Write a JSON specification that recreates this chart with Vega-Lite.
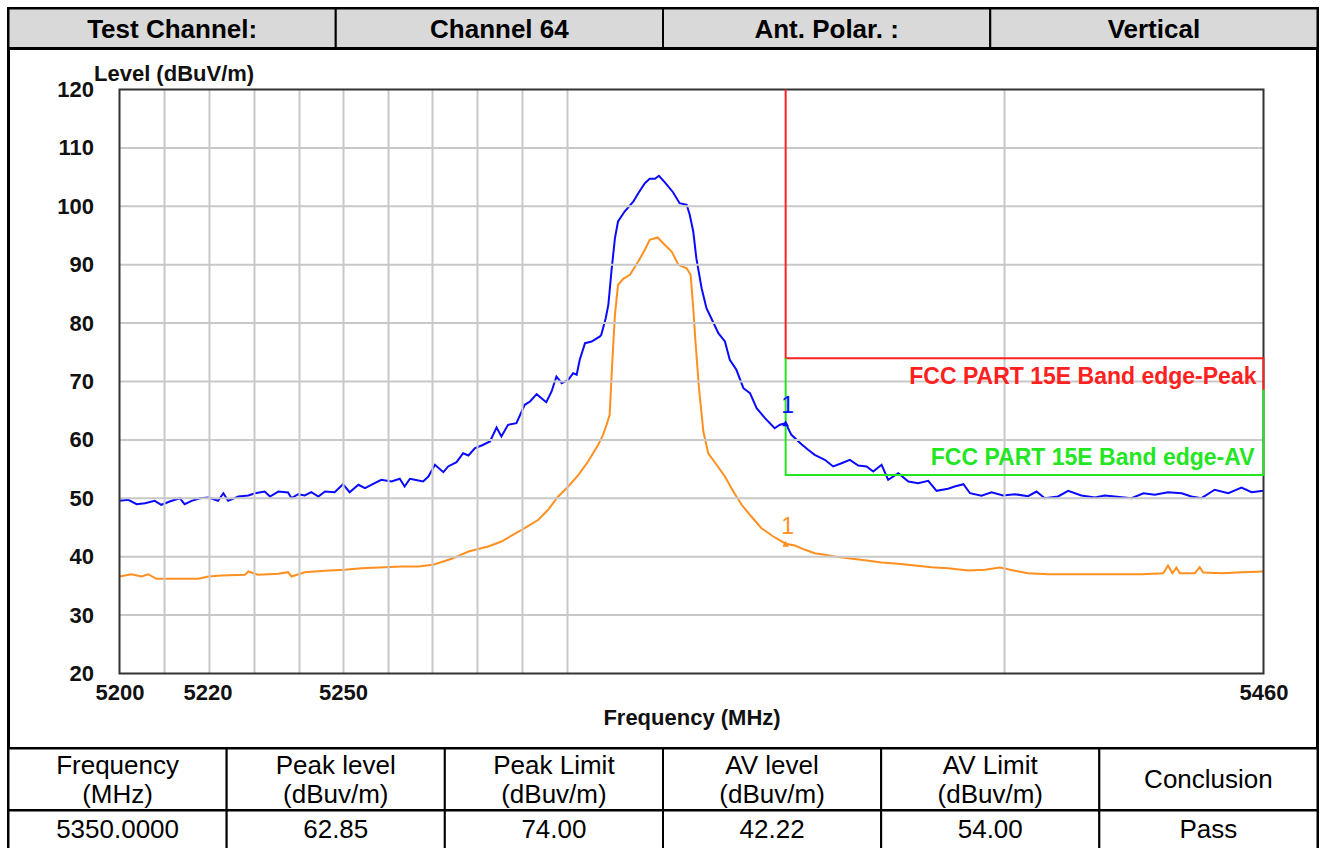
{
  "$schema": "https://vega.github.io/schema/vega-lite/v6.json",
  "background": "white",
  "padding": {"left": 5.5, "top": 5.5, "right": 0, "bottom": 0},
  "autosize": {"type": "pad"},
  "spacing": 0,
  "bounds": "flush",
  "config": {
    "font": "Liberation Sans",
    "view": {"stroke": "black", "strokeWidth": 3},
    "axis": {
      "labelFont": "Liberation Sans", "labelFontSize": 22, "labelFontWeight": "bold", "labelColor": "#111",
      "titleFont": "Liberation Sans", "titleFontSize": 22, "titleFontWeight": "bold", "titleColor": "#111",
      "grid": false, "ticks": false, "tickSize": 0, "domain": false, "labelFlush": false, "labelOverlap": false
    }
  },
  "vconcat": [
    {
      "width": 1309, "height": 40,
      "data": {"values": [
        {"col": 1, "label": "Test Channel:"},
        {"col": 2, "label": "Channel 64"},
        {"col": 3, "label": "Ant. Polar. :"},
        {"col": 4, "label": "Vertical"}
      ]},
      "layer": [
        {"mark": {"type": "rect", "fill": "#d9d9d9", "stroke": "black", "strokeWidth": 2},
         "encoding": {"x": {"field": "col", "type": "ordinal", "axis": null, "scale": {"paddingInner": 0, "paddingOuter": 0}}}},
        {"mark": {"type": "text", "fontWeight": "bold", "fontSize": 26, "color": "black", "baseline": "middle", "dy": 1},
         "encoding": {"x": {"field": "col", "type": "ordinal", "axis": null}, "text": {"field": "label", "type": "nominal"}}}
      ]
    },
    {
      "width": 1309, "height": 700,
      "layer": [
        {
          "data": {"values": [
            {"s":"Peak","f":5200.0,"v":49.57},{"s":"Peak","f":5202.0,"v":49.74},{"s":"Peak","f":5203.9,"v":48.99},{"s":"Peak","f":5205.8,"v":49.16},
            {"s":"Peak","f":5208.0,"v":49.57},{"s":"Peak","f":5209.5,"v":48.89},{"s":"Peak","f":5211.4,"v":49.45},{"s":"Peak","f":5213.7,"v":50.02},
            {"s":"Peak","f":5214.8,"v":48.99},{"s":"Peak","f":5216.4,"v":49.57},{"s":"Peak","f":5218.3,"v":50.02},{"s":"Peak","f":5220.2,"v":50.14},
            {"s":"Peak","f":5222.4,"v":49.57},{"s":"Peak","f":5223.6,"v":50.87},{"s":"Peak","f":5224.7,"v":49.57},{"s":"Peak","f":5227.0,"v":50.31},
            {"s":"Peak","f":5229.3,"v":50.48},{"s":"Peak","f":5230.8,"v":50.87},{"s":"Peak","f":5233.0,"v":51.16},{"s":"Peak","f":5234.2,"v":50.31},
            {"s":"Peak","f":5236.1,"v":51.16},{"s":"Peak","f":5238.3,"v":50.99},{"s":"Peak","f":5239.1,"v":50.02},{"s":"Peak","f":5240.6,"v":50.70},
            {"s":"Peak","f":5242.1,"v":50.48},{"s":"Peak","f":5243.6,"v":51.04},{"s":"Peak","f":5245.2,"v":50.31},{"s":"Peak","f":5246.7,"v":51.16},
            {"s":"Peak","f":5248.9,"v":51.04},{"s":"Peak","f":5250.8,"v":52.41},{"s":"Peak","f":5252.3,"v":51.04},{"s":"Peak","f":5254.3,"v":52.31},
            {"s":"Peak","f":5255.8,"v":51.73},{"s":"Peak","f":5258.0,"v":52.59},{"s":"Peak","f":5259.5,"v":53.17},{"s":"Peak","f":5261.8,"v":52.88},
            {"s":"Peak","f":5263.7,"v":53.34},{"s":"Peak","f":5264.8,"v":52.02},{"s":"Peak","f":5266.0,"v":53.34},{"s":"Peak","f":5267.1,"v":53.17},
            {"s":"Peak","f":5269.0,"v":52.88},{"s":"Peak","f":5270.2,"v":53.73},{"s":"Peak","f":5271.7,"v":55.74},{"s":"Peak","f":5273.6,"v":54.47},
            {"s":"Peak","f":5274.7,"v":55.45},{"s":"Peak","f":5276.6,"v":56.18},{"s":"Peak","f":5278.1,"v":57.72},{"s":"Peak","f":5279.3,"v":57.33},
            {"s":"Peak","f":5280.8,"v":58.58},{"s":"Peak","f":5282.3,"v":59.04},{"s":"Peak","f":5284.2,"v":59.73},{"s":"Peak","f":5285.7,"v":62.12},
            {"s":"Peak","f":5286.8,"v":60.58},{"s":"Peak","f":5288.3,"v":62.59},{"s":"Peak","f":5290.2,"v":62.86},{"s":"Peak","f":5292.1,"v":66.01},
            {"s":"Peak","f":5293.3,"v":66.58},{"s":"Peak","f":5294.8,"v":67.83},{"s":"Peak","f":5297.0,"v":66.46},{"s":"Peak","f":5298.2,"v":68.29},
            {"s":"Peak","f":5299.3,"v":70.86},{"s":"Peak","f":5300.5,"v":69.71},{"s":"Peak","f":5302.0,"v":70.29},{"s":"Peak","f":5303.1,"v":71.42},
            {"s":"Peak","f":5303.9,"v":71.15},{"s":"Peak","f":5304.6,"v":73.72},{"s":"Peak","f":5305.8,"v":76.56},{"s":"Peak","f":5307.3,"v":76.85},
            {"s":"Peak","f":5309.2,"v":77.71},{"s":"Peak","f":5309.5,"v":78.00},{"s":"Peak","f":5310.5,"v":80.84},{"s":"Peak","f":5311.1,"v":83.13},
            {"s":"Peak","f":5311.8,"v":88.84},{"s":"Peak","f":5312.6,"v":94.54},{"s":"Peak","f":5313.3,"v":97.40},{"s":"Peak","f":5314.8,"v":99.11},
            {"s":"Peak","f":5316.8,"v":100.82},{"s":"Peak","f":5317.9,"v":102.24},{"s":"Peak","f":5319.4,"v":103.96},{"s":"Peak","f":5320.5,"v":104.71},
            {"s":"Peak","f":5321.7,"v":104.71},{"s":"Peak","f":5322.6,"v":105.22},{"s":"Peak","f":5323.9,"v":104.13},{"s":"Peak","f":5325.8,"v":102.41},
            {"s":"Peak","f":5327.3,"v":100.53},{"s":"Peak","f":5328.9,"v":100.26},{"s":"Peak","f":5329.6,"v":98.54},{"s":"Peak","f":5330.4,"v":95.68},
            {"s":"Peak","f":5331.1,"v":91.11},{"s":"Peak","f":5332.3,"v":85.98},{"s":"Peak","f":5333.4,"v":82.55},{"s":"Peak","f":5334.5,"v":80.84},
            {"s":"Peak","f":5336.1,"v":78.27},{"s":"Peak","f":5337.6,"v":76.85},{"s":"Peak","f":5338.7,"v":73.72},{"s":"Peak","f":5340.2,"v":72.00},
            {"s":"Peak","f":5341.8,"v":68.85},{"s":"Peak","f":5343.3,"v":68.00},{"s":"Peak","f":5344.8,"v":65.43},{"s":"Peak","f":5346.7,"v":63.72},
            {"s":"Peak","f":5348.9,"v":62.00},{"s":"Peak","f":5350.1,"v":62.59},{"s":"Peak","f":5351.4,"v":62.85},{"s":"Peak","f":5352.7,"v":60.87},
            {"s":"Peak","f":5355.0,"v":59.26},{"s":"Peak","f":5356.5,"v":58.30},{"s":"Peak","f":5358.0,"v":57.45},{"s":"Peak","f":5360.3,"v":56.59},
            {"s":"Peak","f":5362.2,"v":55.45},{"s":"Peak","f":5364.1,"v":56.01},{"s":"Peak","f":5366.0,"v":56.59},{"s":"Peak","f":5367.9,"v":55.62},
            {"s":"Peak","f":5369.8,"v":55.45},{"s":"Peak","f":5371.3,"v":54.59},{"s":"Peak","f":5373.2,"v":55.74},{"s":"Peak","f":5374.7,"v":53.17},
            {"s":"Peak","f":5377.0,"v":54.30},{"s":"Peak","f":5379.3,"v":52.88},{"s":"Peak","f":5381.5,"v":52.59},{"s":"Peak","f":5383.8,"v":53.00},
            {"s":"Peak","f":5385.7,"v":51.28},{"s":"Peak","f":5388.3,"v":51.63},{"s":"Peak","f":5389.8,"v":52.02},{"s":"Peak","f":5391.8,"v":52.41},
            {"s":"Peak","f":5393.3,"v":50.87},{"s":"Peak","f":5395.9,"v":50.43},{"s":"Peak","f":5398.2,"v":51.04},{"s":"Peak","f":5400.8,"v":50.48},
            {"s":"Peak","f":5403.5,"v":50.70},{"s":"Peak","f":5406.5,"v":50.36},{"s":"Peak","f":5408.4,"v":51.16},{"s":"Peak","f":5410.3,"v":50.02},
            {"s":"Peak","f":5413.3,"v":50.31},{"s":"Peak","f":5415.6,"v":51.28},{"s":"Peak","f":5418.6,"v":50.48},{"s":"Peak","f":5421.7,"v":50.14},
            {"s":"Peak","f":5423.9,"v":50.48},{"s":"Peak","f":5426.2,"v":50.31},{"s":"Peak","f":5430.0,"v":50.02},{"s":"Peak","f":5432.7,"v":50.87},
            {"s":"Peak","f":5435.3,"v":50.60},{"s":"Peak","f":5438.3,"v":51.04},{"s":"Peak","f":5441.4,"v":50.87},{"s":"Peak","f":5443.6,"v":50.31},
            {"s":"Peak","f":5445.9,"v":50.02},{"s":"Peak","f":5448.9,"v":51.46},{"s":"Peak","f":5452.0,"v":50.87},{"s":"Peak","f":5455.0,"v":51.85},
            {"s":"Peak","f":5457.3,"v":51.04},{"s":"Peak","f":5460.0,"v":51.28},
            {"s":"AV","f":5200.0,"v":36.61},{"s":"AV","f":5202.7,"v":37.00},{"s":"AV","f":5205.0,"v":36.61},{"s":"AV","f":5206.5,"v":37.00},
            {"s":"AV","f":5208.4,"v":36.22},{"s":"AV","f":5217.9,"v":36.22},{"s":"AV","f":5220.2,"v":36.61},{"s":"AV","f":5223.2,"v":36.78},
            {"s":"AV","f":5228.5,"v":36.90},{"s":"AV","f":5229.3,"v":37.47},{"s":"AV","f":5231.5,"v":36.90},{"s":"AV","f":5236.1,"v":37.07},
            {"s":"AV","f":5238.3,"v":37.35},{"s":"AV","f":5239.1,"v":36.61},{"s":"AV","f":5242.1,"v":37.35},{"s":"AV","f":5246.7,"v":37.59},
            {"s":"AV","f":5251.2,"v":37.76},{"s":"AV","f":5255.0,"v":38.03},{"s":"AV","f":5260.3,"v":38.20},{"s":"AV","f":5264.1,"v":38.32},
            {"s":"AV","f":5267.9,"v":38.32},{"s":"AV","f":5271.3,"v":38.61},{"s":"AV","f":5275.5,"v":39.64},{"s":"AV","f":5279.3,"v":40.89},
            {"s":"AV","f":5283.8,"v":41.75},{"s":"AV","f":5286.8,"v":42.60},{"s":"AV","f":5291.4,"v":44.61},{"s":"AV","f":5295.2,"v":46.32},
            {"s":"AV","f":5297.4,"v":48.03},{"s":"AV","f":5299.7,"v":50.31},{"s":"AV","f":5302.0,"v":52.02},{"s":"AV","f":5304.3,"v":54.02},
            {"s":"AV","f":5306.5,"v":56.30},{"s":"AV","f":5308.8,"v":59.16},{"s":"AV","f":5309.9,"v":60.87},{"s":"AV","f":5310.7,"v":62.59},
            {"s":"AV","f":5311.4,"v":64.30},{"s":"AV","f":5312.0,"v":73.42},{"s":"AV","f":5312.6,"v":81.42},{"s":"AV","f":5313.3,"v":86.56},
            {"s":"AV","f":5314.5,"v":87.59},{"s":"AV","f":5316.0,"v":88.27},{"s":"AV","f":5317.9,"v":90.55},{"s":"AV","f":5319.4,"v":92.55},
            {"s":"AV","f":5320.5,"v":94.26},{"s":"AV","f":5322.3,"v":94.66},{"s":"AV","f":5323.9,"v":93.41},{"s":"AV","f":5325.5,"v":92.26},
            {"s":"AV","f":5327.0,"v":89.98},{"s":"AV","f":5328.9,"v":89.40},{"s":"AV","f":5329.8,"v":88.27},{"s":"AV","f":5330.4,"v":82.55},
            {"s":"AV","f":5330.9,"v":76.85},{"s":"AV","f":5331.7,"v":68.85},{"s":"AV","f":5332.7,"v":61.44},{"s":"AV","f":5333.8,"v":57.72},
            {"s":"AV","f":5335.7,"v":55.74},{"s":"AV","f":5337.6,"v":53.73},{"s":"AV","f":5339.5,"v":51.16},{"s":"AV","f":5341.4,"v":48.89},
            {"s":"AV","f":5343.6,"v":46.88},{"s":"AV","f":5345.9,"v":44.88},{"s":"AV","f":5348.6,"v":43.46},{"s":"AV","f":5351.4,"v":42.22},
            {"s":"AV","f":5353.5,"v":41.92},{"s":"AV","f":5355.8,"v":41.18},{"s":"AV","f":5358.0,"v":40.60},{"s":"AV","f":5360.3,"v":40.33},
            {"s":"AV","f":5362.6,"v":40.03},{"s":"AV","f":5365.6,"v":39.74},{"s":"AV","f":5369.4,"v":39.40},{"s":"AV","f":5373.2,"v":39.01},
            {"s":"AV","f":5377.0,"v":38.78},{"s":"AV","f":5380.8,"v":38.49},{"s":"AV","f":5384.5,"v":38.20},{"s":"AV","f":5388.3,"v":38.03},
            {"s":"AV","f":5392.9,"v":37.64},{"s":"AV","f":5396.7,"v":37.76},{"s":"AV","f":5400.1,"v":38.15},{"s":"AV","f":5403.5,"v":37.59},
            {"s":"AV","f":5406.5,"v":37.17},{"s":"AV","f":5411.1,"v":37.00},{"s":"AV","f":5416.4,"v":37.00},{"s":"AV","f":5421.7,"v":37.00},
            {"s":"AV","f":5426.2,"v":37.00},{"s":"AV","f":5432.3,"v":37.00},{"s":"AV","f":5437.2,"v":37.17},{"s":"AV","f":5438.3,"v":38.49},
            {"s":"AV","f":5439.3,"v":37.17},{"s":"AV","f":5440.2,"v":38.15},{"s":"AV","f":5441.0,"v":37.17},{"s":"AV","f":5444.4,"v":37.17},
            {"s":"AV","f":5445.5,"v":38.20},{"s":"AV","f":5446.3,"v":37.29},{"s":"AV","f":5450.5,"v":37.17},{"s":"AV","f":5455.0,"v":37.35},
            {"s":"AV","f":5460.0,"v":37.47}
          ]},
          "mark": {"type": "line", "strokeWidth": 2, "zindex": 2},
          "encoding": {
            "x": {"field": "f", "type": "quantitative",
              "scale": {"domain": [5200, 5460], "range": [111, 1255], "nice": false, "zero": false},
              "axis": {"values": [5200, 5220, 5250.8, 5460],
                "labelExpr": "datum.value > 5250 && datum.value < 5252 ? '5250' : format(datum.value, 'd')",
                "title": "Frequency (MHz)", "offset": -75, "labelPadding": 9, "titlePadding": 4}},
            "y": {"field": "v", "type": "quantitative",
              "scale": {"domain": [20, 120], "range": [625, 41], "nice": false, "zero": false},
              "axis": {"values": [20, 30, 40, 50, 60, 70, 80, 90, 100, 110, 120],
                "title": "Level (dBuV/m)", "offset": -111, "labelPadding": 26,
                "titleAngle": 0, "titleAlign": "left", "titleBaseline": "middle", "titleX": -26, "titleY": 25}},
            "color": {"field": "s", "type": "nominal", "legend": null,
              "scale": {"domain": ["Peak", "AV"], "range": ["#0a0aff", "#ff9020"]}}
          }
        },
        {
          "data": {"values": [
            {"g": 5210.23}, {"g": 5220.45}, {"g": 5230.68}, {"g": 5240.91}, {"g": 5250.91},
            {"g": 5261.14}, {"g": 5271.14}, {"g": 5281.36}, {"g": 5291.59}, {"g": 5301.82}, {"g": 5401.14}
          ]},
          "mark": {"type": "rule", "color": "#c8c8c8", "strokeWidth": 2, "zindex": 1},
          "encoding": {
            "x": {"field": "g", "type": "quantitative"},
            "y": {"datum": 20, "type": "quantitative"},
            "y2": {"datum": 120}
          }
        },
        {
          "data": {"values": [{"h": 30}, {"h": 40}, {"h": 50}, {"h": 60}, {"h": 70}, {"h": 80}, {"h": 90}, {"h": 100}, {"h": 110}]},
          "mark": {"type": "rule", "color": "#c8c8c8", "strokeWidth": 2, "zindex": 1},
          "encoding": {
            "y": {"field": "h", "type": "quantitative"},
            "x": {"datum": 5200, "type": "quantitative"},
            "x2": {"datum": 5460}
          }
        },
        {
          "data": {"values": [{"r": 1}]},
          "mark": {"type": "rect", "fill": "transparent", "stroke": "#333", "strokeWidth": 2, "zindex": 1},
          "encoding": {
            "x": {"datum": 5200, "type": "quantitative"}, "x2": {"datum": 5460},
            "y": {"datum": 20, "type": "quantitative"}, "y2": {"datum": 120}
          }
        },
        {
          "data": {"values": [
            {"f": 5351.4, "v": 120, "o": 1}, {"f": 5351.4, "v": 74, "o": 2}, {"f": 5460, "v": 74, "o": 3}, {"f": 5460, "v": 68.6, "o": 4}
          ]},
          "mark": {"type": "line", "color": "#ff2020", "strokeWidth": 2, "zindex": 1},
          "encoding": {
            "x": {"field": "f", "type": "quantitative"},
            "y": {"field": "v", "type": "quantitative"},
            "order": {"field": "o", "type": "quantitative"}
          }
        },
        {
          "data": {"values": [
            {"f": 5351.4, "v": 74, "o": 1}, {"f": 5351.4, "v": 54, "o": 2}, {"f": 5460, "v": 54, "o": 3}, {"f": 5460, "v": 68.6, "o": 4}
          ]},
          "mark": {"type": "line", "color": "#22e622", "strokeWidth": 2, "zindex": 1},
          "encoding": {
            "x": {"field": "f", "type": "quantitative"},
            "y": {"field": "v", "type": "quantitative"},
            "order": {"field": "o", "type": "quantitative"}
          }
        },
        {
          "data": {"values": [
            {"s": "Peak", "f": 5351.4, "v": 62.85},
            {"s": "AV", "f": 5351.4, "v": 42.22}
          ]},
          "mark": {"type": "point", "shape": "triangle-up", "filled": true, "size": 45, "opacity": 1, "zindex": 3},
          "encoding": {
            "x": {"field": "f", "type": "quantitative"},
            "y": {"field": "v", "type": "quantitative"},
            "color": {"field": "s", "type": "nominal", "legend": null}
          }
        },
        {
          "data": {"values": [
            {"s": "Peak", "f": 5351.4, "v": 62.85, "m": "1"},
            {"s": "AV", "f": 5351.4, "v": 42.22, "m": "1"}
          ]},
          "mark": {"type": "text", "fontSize": 23, "baseline": "alphabetic", "dy": -10, "dx": 2, "zindex": 3},
          "encoding": {
            "x": {"field": "f", "type": "quantitative"},
            "y": {"field": "v", "type": "quantitative"},
            "text": {"field": "m", "type": "nominal"},
            "color": {"field": "s", "type": "nominal", "legend": null}
          }
        },
        {
          "data": {"values": [
            {"label": "FCC PART 15E Band edge-Peak", "f": 5460, "v": 74}
          ]},
          "mark": {"type": "text", "fontSize": 23, "fontWeight": "bold", "color": "#ff2020", "align": "right", "baseline": "alphabetic", "dx": -7, "dy": 26, "zindex": 3},
          "encoding": {
            "x": {"field": "f", "type": "quantitative"},
            "y": {"field": "v", "type": "quantitative"},
            "text": {"field": "label", "type": "nominal"}
          }
        },
        {
          "data": {"values": [
            {"label": "FCC PART 15E Band edge-AV", "f": 5460, "v": 54}
          ]},
          "mark": {"type": "text", "fontSize": 23, "fontWeight": "bold", "color": "#22e622", "align": "right", "baseline": "alphabetic", "dx": -9, "dy": -10, "zindex": 3},
          "encoding": {
            "x": {"field": "f", "type": "quantitative"},
            "y": {"field": "v", "type": "quantitative"},
            "text": {"field": "label", "type": "nominal"}
          }
        }
      ]
    },
    {
      "width": 1309, "height": 62,
      "data": {"values": [
        {"col": 1, "label": "Frequency\n(MHz)", "n": 2},
        {"col": 2, "label": "Peak level\n(dBuv/m)", "n": 2},
        {"col": 3, "label": "Peak Limit\n(dBuv/m)", "n": 2},
        {"col": 4, "label": "AV level\n(dBuv/m)", "n": 2},
        {"col": 5, "label": "AV Limit\n(dBuv/m)", "n": 2},
        {"col": 6, "label": "Conclusion", "n": 1}
      ]},
      "layer": [
        {"mark": {"type": "rect", "fill": "white", "stroke": "black", "strokeWidth": 2},
         "encoding": {"x": {"field": "col", "type": "ordinal", "axis": null, "scale": {"paddingInner": 0, "paddingOuter": 0}}}},
        {"transform": [{"filter": "datum.n == 2"}],
         "mark": {"type": "text", "fontSize": 26, "color": "black", "baseline": "middle", "lineBreak": "\n", "lineHeight": 29, "dy": -14},
         "encoding": {"x": {"field": "col", "type": "ordinal", "axis": null}, "text": {"field": "label", "type": "nominal"}}},
        {"transform": [{"filter": "datum.n == 1"}],
         "mark": {"type": "text", "fontSize": 26, "color": "black", "baseline": "middle"},
         "encoding": {"x": {"field": "col", "type": "ordinal", "axis": null}, "text": {"field": "label", "type": "nominal"}}}
      ]
    },
    {
      "width": 1309, "height": 39,
      "data": {"values": [
        {"col": 1, "label": "5350.0000"},
        {"col": 2, "label": "62.85"},
        {"col": 3, "label": "74.00"},
        {"col": 4, "label": "42.22"},
        {"col": 5, "label": "54.00"},
        {"col": 6, "label": "Pass"}
      ]},
      "layer": [
        {"mark": {"type": "rect", "fill": "white", "stroke": "black", "strokeWidth": 2},
         "encoding": {"x": {"field": "col", "type": "ordinal", "axis": null, "scale": {"paddingInner": 0, "paddingOuter": 0}}}},
        {"mark": {"type": "text", "fontSize": 26, "color": "black", "baseline": "middle"},
         "encoding": {"x": {"field": "col", "type": "ordinal", "axis": null}, "text": {"field": "label", "type": "nominal"}}}
      ]
    }
  ]
}
